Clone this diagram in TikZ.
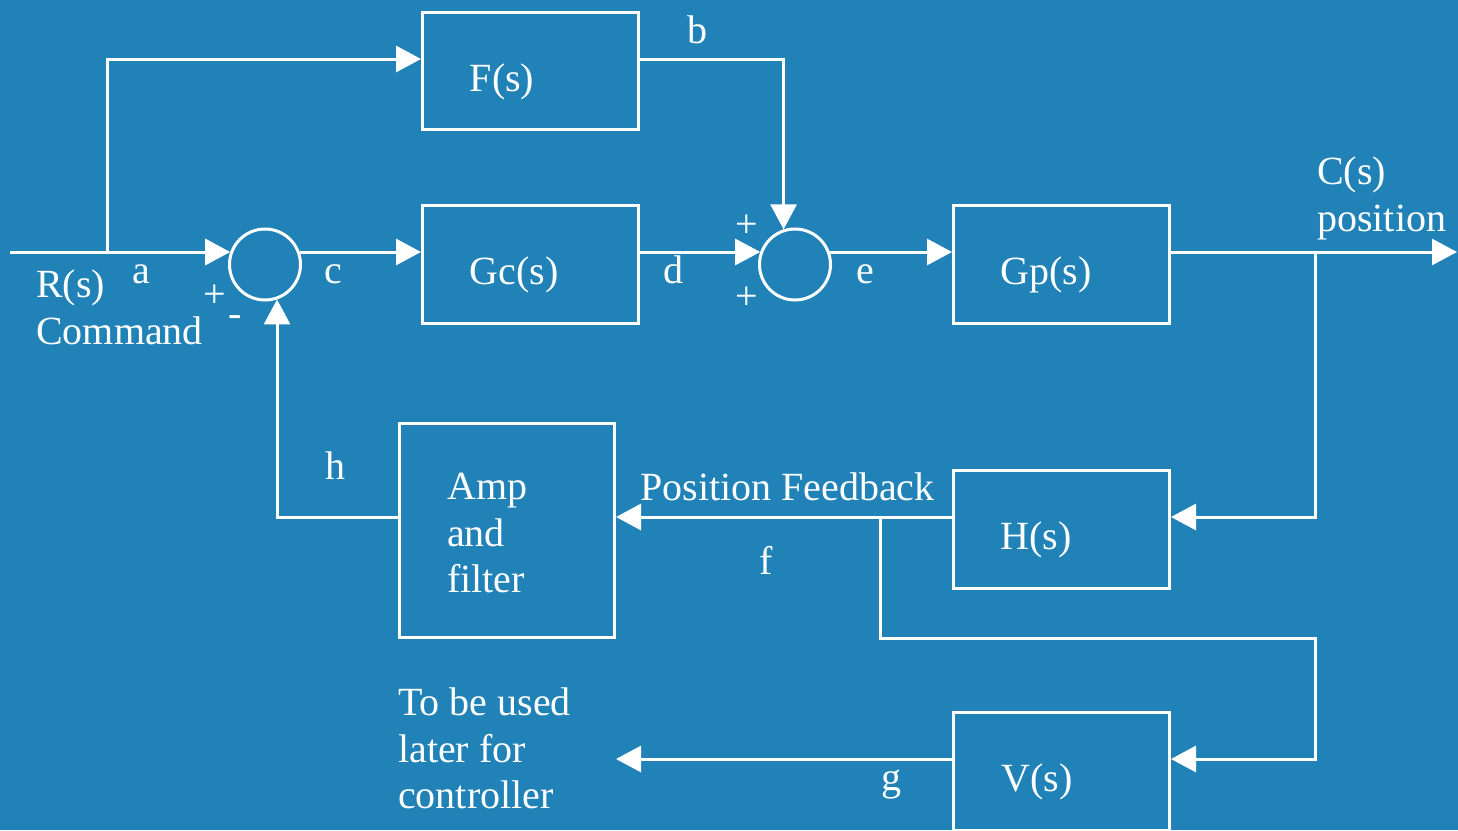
\documentclass[tikz,border=0pt]{standalone}
\usepackage{fontspec}
\setmainfont{Liberation Serif}
\usetikzlibrary{arrows.meta,calc}
\definecolor{bgblue}{RGB}{33,130,184}
\begin{document}
\begin{tikzpicture}[x=1pt,y=-1pt,
  wire/.style={white,line width=3pt},
  arr/.style={wire,-{Triangle[length=25pt,width=26pt]}},
  blockbox/.style={draw=white,line width=3pt,rectangle,inner sep=0pt,minimum width=216pt,minimum height=118pt},
  sumnode/.style={draw=white,line width=3pt,circle,inner sep=0pt,minimum size=71pt},
  lbl/.style={text=white,inner sep=0pt,font=\fontsize{40}{46.5}\selectfont},
]
\fill[bgblue] (0,0) rectangle (1458,830);
\useasboundingbox (0,0) rectangle (1458,830);
\clip (0,0) rectangle (1458,830);

% blocks
\node[blockbox,minimum height=117pt] (F) at (530.5,71) {};
\node[blockbox] (Gc) at (530.5,264.5) {};
\node[blockbox] (Gp) at (1061.5,264.5) {};
\node[blockbox] (H) at (1061.5,529.5) {};
\node[blockbox,minimum width=215pt,minimum height=214pt] (Amp) at (507,530.5) {};
\node[blockbox] (V) at (1061.5,771.5) {};
\node[sumnode] (s1) at (265,264.5) {};
\node[sumnode] (s2) at (795,264.5) {};

% block labels
\node[lbl,anchor=base] (Ft) at (502,91) {F(s)};
\node[lbl,anchor=base] (Gct) at (514,284) {Gc(s)};
\node[lbl,anchor=base] (Gpt) at (1046,284) {Gp(s)};
\node[lbl,anchor=base] (Ht) at (1036,549) {H(s)};
\node[lbl,anchor=base] (Vt) at (1037,791) {V(s)};
\node[lbl,anchor=north west,align=left] (Ampt) at (447,473) {Amp\\and\\filter};

% signal labels
\node[lbl,anchor=north west,align=left] (Rt) at (36,270) {R(s)\\Command};
\node[lbl,anchor=north west,align=left] (Ct) at (1317,157) {C(s)\\position};
\node[lbl,anchor=north west,align=left] (Tt) at (398,688) {To be used\\later for\\controller};
\node[lbl,anchor=base west] (PF) at (640,500) {Position Feedback};
\node[lbl,anchor=base] (la) at (141,283) {a};
\node[lbl,anchor=base] (lb) at (697,43) {b};
\node[lbl,anchor=base] (lc) at (333,283) {c};
\node[lbl,anchor=base] (ld) at (673,283) {d};
\node[lbl,anchor=base] (le) at (865,283) {e};
\node[lbl,anchor=base] (lf) at (766,574) {f};
\node[lbl,anchor=base] (lg) at (891,790) {g};
\node[lbl,anchor=base] (lh) at (335,479) {h};
\node[lbl] (p1) at (215,296) {+};
\node[lbl] (m1) at (235,321) {-};
\node[lbl] (p2) at (747,226) {+};
\node[lbl] (p3) at (747,298) {+};

% coordinates
\coordinate (in) at (10,252);
\coordinate (br1) at (107,252);
\coordinate (out) at (1457,252);
\coordinate (br2) at (1315,252);
\coordinate (br3) at (880,517);
\coordinate (corner) at (1315,638);
\coordinate (gend) at (616,759);

% connectors
\draw[arr] (in) -- (s1.160.26 |- in);
\draw[arr] (br1) |- ([yshift=12pt]F.west);
\draw[arr] ([yshift=12pt]F.east) -| (s2.108.93);
\draw[arr] (s1.19.74 |- in) -- (Gc.west |- in);
\draw[arr] (Gc.east |- in) -- (s2.160.26 |- in);
\draw[arr] (s2.19.74 |- in) -- (Gp.west |- in);
\draw[arr] (Gp.east |- in) -- (out);
\draw[arr] (br2) |- (H.east |- br3);
\draw[arr] (H.west |- br3) -- (Amp.east |- br3);
\draw[arr] (br3) |- (corner) |- (V.east |- gend);
\draw[arr] (V.west |- gend) -- (gend);
\draw[arr] (Amp.west |- br3) -| (s1.-71.07);
\end{tikzpicture}
\end{document}
